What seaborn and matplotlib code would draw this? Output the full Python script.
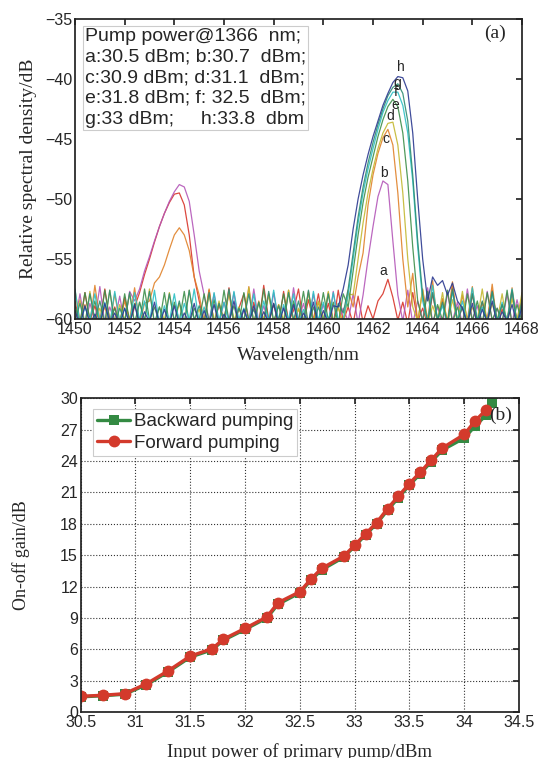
#!/usr/bin/env python3

import numpy as np
import pandas as pd
import seaborn as sns
import matplotlib.pyplot as plt

sns.set_theme(style="white")
plt.rcParams["font.family"] = ["Liberation Sans", "DejaVu Sans"]
plt.rcParams["xtick.direction"] = "in"
plt.rcParams["ytick.direction"] = "in"
plt.rcParams["axes.edgecolor"] = "#222222"

SERIF = ["Liberation Serif", "DejaVu Serif"]

# ---- panel (a): spectra, sampled every 0.2 nm from 1450 to 1468 nm ----
wavelength = np.round(np.arange(1450, 1468.01, 0.2), 1)

spec_a = [
    -58.5, -60.5, -57.8, -60.2, -58.9, -60.4, -57.5, -60.1, -59.0, -60.5,
    -58.2, -60.3, -59.0, -57.8, -56.3, -55.0, -53.6, -52.3, -51.2, -50.3,
    -49.6, -49.5, -50.5, -53.0, -56.5, -58.5, -60.3, -57.6, -60.4, -58.8,
    -60.2, -57.4, -60.5, -59.1, -57.9, -60.3, -58.6, -60.4, -57.2, -60.1,
    -58.8, -60.5, -57.7, -60.2, -59.3, -57.5, -60.4, -58.4, -60.1, -57.9,
    -60.3, -58.7, -60.5, -57.6, -60.2, -59.0, -60.4, -58.1, -60.3, -58.9,
    -60.0, -58.5, -57.9, -56.7, -58.2, -60.1, -58.6, -60.4, -57.8, -60.2,
    -59.1, -60.5, -57.9, -60.1, -58.4, -60.4, -57.3, -60.2, -59.0, -60.5,
    -57.9, -60.3, -58.6, -60.1, -57.6, -60.4, -59.2, -60.2, -57.8, -60.3,
    -58.7,
]
spec_b = [
    -60.3, -57.9, -60.5, -58.7, -60.1, -57.3, -60.4, -59.0, -60.2, -58.1,
    -60.4, -57.7, -58.5, -57.5, -56.0, -54.8, -53.5, -52.3, -51.2, -50.2,
    -49.4, -48.8, -49.0, -50.2, -53.0, -56.0, -58.0, -60.2, -57.9, -60.4,
    -58.6, -60.1, -57.8, -60.5, -59.2, -60.2, -57.5, -60.3, -58.9, -60.4,
    -57.8, -60.2, -59.0, -60.5, -57.4, -60.1, -58.7, -60.4, -57.9, -60.2,
    -58.8, -60.5, -57.7, -60.3, -59.1, -60.2, -57.9, -60.4, -58.0, -55.0,
    -52.3, -49.8, -48.5, -48.8, -53.5, -58.0, -60.2, -57.6, -60.4, -58.5,
    -60.1, -57.4, -60.3, -59.0, -60.5, -57.8, -60.2, -58.6, -60.4, -57.5,
    -60.1, -58.9, -60.5, -57.7, -60.2, -59.1, -60.4, -57.9, -60.3, -58.4,
    -60.2,
]
spec_c = [
    -57.6, -60.2, -58.8, -60.4, -57.2, -60.1, -59.0, -60.5, -57.9, -60.3,
    -58.5, -60.1, -57.4, -60.4, -58.7, -58.5, -57.0, -56.5, -55.5, -54.2,
    -53.0, -52.4, -53.0, -54.3, -56.5, -58.0, -60.2, -57.5, -60.4, -58.7,
    -60.1, -57.8, -60.5, -59.1, -60.2, -57.3, -60.4, -58.5, -60.1, -57.9,
    -60.3, -58.8, -60.5, -57.6, -60.2, -59.2, -60.4, -57.7, -60.1, -58.6,
    -60.4, -57.8, -60.2, -59.0, -60.5, -57.6, -59.0, -56.5, -54.5, -50.5,
    -48.0, -46.2, -44.9, -44.2, -45.5, -49.5, -55.0, -59.0, -56.2, -60.3,
    -57.5, -60.1, -56.8, -60.4, -58.3, -60.2, -56.9, -60.5, -58.0, -60.1,
    -57.3, -60.4, -58.6, -60.2, -57.1, -60.5, -58.8, -60.1, -57.4, -60.3,
    -58.2,
]
spec_d = [
    -60.1, -58.4, -60.5, -57.7, -60.2, -59.1, -60.4, -57.6, -60.3, -58.8,
    -60.1, -57.9, -60.4, -58.6, -60.2, -57.5, -60.5, -59.0, -60.1, -57.8,
    -60.3, -58.7, -60.4, -57.6, -60.1, -59.2, -60.5, -57.9, -60.2, -58.5,
    -60.4, -57.7, -60.1, -59.0, -60.3, -57.4, -60.5, -58.6, -60.2, -57.9,
    -60.4, -58.8, -60.1, -57.6, -60.5, -59.1, -60.2, -57.8, -60.4, -58.5,
    -60.1, -57.7, -60.3, -59.0, -60.5, -57.9, -58.0, -55.0, -52.0, -49.5,
    -47.5, -45.8, -44.5, -43.7, -43.6, -45.5, -49.5, -55.0, -59.0, -60.2,
    -57.6, -60.4, -58.9, -60.1, -57.8, -60.5, -58.4, -60.2, -57.7, -60.3,
    -59.0, -60.1, -57.5, -60.4, -58.7, -60.2, -57.9, -60.5, -58.3, -60.1,
    -57.8,
]
spec_e = [
    -58.9, -60.3, -57.8, -60.1, -58.5, -60.4, -57.6, -60.2, -59.1, -60.5,
    -57.9, -60.2, -58.7, -60.4, -57.5, -60.1, -59.0, -60.3, -57.8, -60.5,
    -58.6, -60.2, -57.7, -60.4, -59.1, -60.1, -57.9, -60.3, -58.4, -60.5,
    -57.6, -60.2, -58.9, -60.4, -57.8, -60.1, -59.2, -60.5, -57.5, -60.3,
    -58.7, -60.1, -57.9, -60.4, -58.5, -60.2, -57.7, -60.5, -59.0, -60.3,
    -57.8, -60.1, -58.6, -60.4, -57.9, -59.0, -56.0, -53.0, -50.3, -48.2,
    -46.5, -44.8, -43.4, -42.3, -41.7, -42.3, -44.5, -48.5, -54.0, -58.5,
    -60.2, -57.7, -60.4, -58.8, -60.1, -57.6, -60.3, -59.0, -60.5, -57.9,
    -60.2, -58.5, -60.4, -57.8, -60.1, -59.1, -60.3, -57.6, -60.5, -58.8,
    -60.2,
]
spec_f = [
    -57.5, -60.4, -59.0, -60.1, -57.9, -60.3, -58.6, -60.5, -57.7, -60.2,
    -59.1, -60.4, -57.8, -60.1, -58.5, -60.3, -57.6, -60.5, -58.9, -60.2,
    -57.9, -60.4, -58.7, -60.1, -57.5, -60.3, -59.0, -60.5, -57.8, -60.2,
    -58.6, -60.4, -57.7, -60.1, -59.1, -60.3, -57.9, -60.5, -58.5, -60.2,
    -57.6, -60.4, -58.8, -60.1, -57.9, -60.3, -59.2, -60.5, -57.7, -60.2,
    -58.6, -60.4, -57.8, -60.1, -60.0, -58.0, -55.0, -52.0, -49.5, -47.5,
    -45.8, -44.2, -42.8, -41.8, -41.1, -41.1, -42.2, -44.5, -48.5, -54.0,
    -58.5, -60.3, -57.2, -60.1, -58.9, -60.4, -57.7, -60.2, -58.5, -60.5,
    -57.4, -60.1, -59.0, -60.3, -57.8, -60.4, -58.6, -60.2, -57.5, -60.5,
    -58.9,
]
spec_g = [
    -60.2, -58.7, -60.4, -57.9, -60.1, -58.5, -60.3, -57.6, -60.5, -59.1,
    -60.2, -57.8, -60.4, -58.6, -60.1, -57.7, -60.3, -59.0, -60.5, -57.9,
    -60.2, -58.5, -60.4, -57.6, -60.1, -58.9, -60.3, -57.8, -60.5, -58.7,
    -60.2, -57.5, -60.4, -59.1, -60.1, -57.9, -60.3, -58.6, -60.5, -57.7,
    -60.2, -58.9, -60.4, -57.8, -60.1, -58.5, -60.3, -57.6, -60.5, -59.0,
    -60.2, -57.9, -60.4, -58.7, -59.5, -57.5, -54.5, -51.5, -49.0, -47.0,
    -45.3, -43.8, -42.5, -41.4, -40.7, -40.4, -41.2, -43.5, -48.0, -53.5,
    -58.0, -60.3, -57.8, -60.1, -58.6, -60.4, -57.5, -60.2, -59.0, -60.5,
    -57.9, -60.2, -58.5, -60.4, -57.7, -60.1, -58.8, -60.3, -57.6, -60.5,
    -58.4,
]
spec_h = [
    -59.3, -60.5, -58.9, -60.4, -59.6, -60.5, -58.7, -60.3, -59.5, -60.5,
    -59.1, -60.4, -58.8, -60.5, -59.4, -60.3, -58.6, -60.5, -59.2, -60.4,
    -58.9, -60.5, -59.5, -60.3, -58.7, -60.5, -59.3, -60.4, -58.8, -60.5,
    -59.6, -60.3, -58.5, -60.5, -59.2, -60.4, -58.9, -60.5, -59.4, -60.3,
    -58.7, -60.5, -59.1, -60.4, -58.8, -60.5, -59.5, -60.3, -58.6, -60.5,
    -59.3, -60.4, -58.9, -59.0, -57.5, -55.5, -52.5, -50.0, -48.0, -46.3,
    -44.8, -43.5, -42.2, -41.2, -40.3, -39.8, -39.9, -41.0, -44.5, -50.0,
    -55.0, -58.5, -56.5, -57.2, -56.8, -58.0, -57.0, -58.5, -59.1, -60.4,
    -58.7, -60.5, -59.2, -60.3, -58.5, -60.5, -59.4, -60.2, -58.8, -60.5,
    -59.0,
]

curve_names = ["a", "b", "c", "d", "e", "f", "g", "h"]
curve_colors = ["#D8352A", "#B457B8", "#E0822A", "#C4B832",
                "#3E8F4A", "#2CC0C4", "#2E8C72", "#2B3990"]
# where each letter sits next to its peak
label_x = [1462.41, 1462.43, 1462.50, 1462.71, 1462.89, 1462.92, 1462.96, 1463.12]
label_y = [-56.0, -47.8, -45.0, -43.1, -42.2, -41.05, -40.3, -39.0]

legend_lines = [
    "Pump power@1366  nm;",
    "a:30.5 dBm; b:30.7  dBm;",
    "c:30.9 dBm; d:31.1  dBm;",
    "e:31.8 dBm; f: 32.5  dBm;",
    "g:33 dBm;     h:33.8  dbm",
]

# ---- panel (b): on-off gain ----
pump_fwd = [30.5, 30.7, 30.9, 31.1, 31.3, 31.5, 31.7, 31.8, 32.0, 32.2, 32.3,
            32.5, 32.6, 32.7, 32.9, 33.0, 33.1, 33.2, 33.3, 33.4, 33.5, 33.6,
            33.7, 33.8, 34.0, 34.1, 34.2]
gain_fwd = [1.5, 1.6, 1.75, 2.7, 3.95, 5.35, 6.05, 6.95, 8.0, 9.1, 10.45,
            11.5, 12.7, 13.75, 14.9, 15.95, 17.05, 18.1, 19.45, 20.65, 21.85,
            22.95, 24.1, 25.25, 26.55, 27.85, 28.9]
pump_bwd = pump_fwd + [34.25]
gain_bwd = [1.45, 1.55, 1.7, 2.6, 3.85, 5.25, 5.95, 6.85, 7.9, 9.0, 10.3,
            11.4, 12.6, 13.6, 14.8, 15.85, 16.95, 18.0, 19.3, 20.5, 21.7,
            22.8, 23.95, 25.05, 26.2, 27.35, 28.4, 29.6]

if __name__ == "__main__":
    spectra = [spec_a, spec_b, spec_c, spec_d, spec_e, spec_f, spec_g, spec_h]
    spec_df = pd.concat(
        [pd.DataFrame({"wl": wavelength, "dB": s, "curve": n})
         for n, s in zip(curve_names, spectra)],
        ignore_index=True,
    )

    fig = plt.figure(figsize=(5.42, 7.58), dpi=100)
    ax1 = fig.add_axes([0.1384, 0.5792, 0.8247, 0.3958])
    ax2 = fig.add_axes([0.1489, 0.0607, 0.8087, 0.4138])

    # panel (a)
    sns.lineplot(data=spec_df, x="wl", y="dB", hue="curve",
                 palette=dict(zip(curve_names, curve_colors)),
                 estimator=None, linewidth=0.9, alpha=0.9, legend=False, ax=ax1)
    for n, lx, ly in zip(curve_names, label_x, label_y):
        ax1.text(lx, ly, n, fontsize=10, ha="center", va="center")
    ax1.set_xlim(1450, 1468)
    ax1.set_ylim(-60, -35)
    ax1.set_xticks(range(1450, 1469, 2))
    ax1.set_yticks(range(-60, -34, 5))
    ax1.tick_params(labelsize=11.5, top=True, right=True, length=4, pad=2)
    ax1.set_xlabel("Wavelength/nm", family=SERIF, fontsize=14)
    ax1.set_ylabel("Relative spectral density/dB", family=SERIF, fontsize=14)
    ax1.xaxis.set_label_coords(0.5, -0.095)
    ax1.yaxis.set_label_coords(-0.085, 0.5)
    ax1.text(0.022, 0.97, "\n".join(legend_lines), transform=ax1.transAxes,
             fontsize=14, va="top", ha="left", linespacing=1.28,
             bbox=dict(boxstyle="square,pad=0.12", fc="white", ec="#cccccc",
                       lw=0.8))
    ax1.text(1466.9, -36.2, "(a)", family=SERIF, fontsize=14,
             ha="center", va="center")

    # panel (b)
    sns.lineplot(x=pump_bwd, y=gain_bwd, color="#348A43", marker="s",
                 markersize=7, markeredgewidth=0, linewidth=2.4,
                 label="Backward pumping", ax=ax2)
    sns.lineplot(x=pump_fwd, y=gain_fwd, color="#D33A2C", marker="o",
                 markersize=8.5, markeredgewidth=0, linewidth=2.4,
                 label="Forward pumping", ax=ax2)
    ax2.set_xlim(30.5, 34.5)
    ax2.set_ylim(0, 30)
    ax2.set_xticks(np.arange(30.5, 34.51, 0.5))
    ax2.set_xticklabels(["30.5", "31", "31.5", "32", "32.5", "33", "33.5",
                         "34", "34.5"])
    ax2.set_yticks(range(0, 31, 3))
    ax2.grid(True, linestyle=":", color="#333333", linewidth=0.8)
    ax2.tick_params(labelsize=11.5, top=True, right=True, length=4, pad=2)
    ax2.set_xlabel("Input power of primary pump/dBm", family=SERIF,
                   fontsize=13.5)
    ax2.set_ylabel("On-off gain/dB", family=SERIF, fontsize=13)
    ax2.xaxis.set_label_coords(0.5, -0.1)
    ax2.yaxis.set_label_coords(-0.116, 0.5)
    leg = ax2.legend(loc="upper left", bbox_to_anchor=(0.028, 0.965),
                     fontsize=13.5, handlelength=1.8, handletextpad=0.2,
                     borderpad=0.2, labelspacing=0.25, fancybox=False,
                     framealpha=1, borderaxespad=0)
    leg.get_frame().set_edgecolor("#cccccc")
    leg.get_frame().set_linewidth(0.8)
    ax2.text(34.33, 28.4, "(b)", family=SERIF, fontsize=14,
             ha="center", va="center")

    plt.savefig("out.png", dpi=100)
